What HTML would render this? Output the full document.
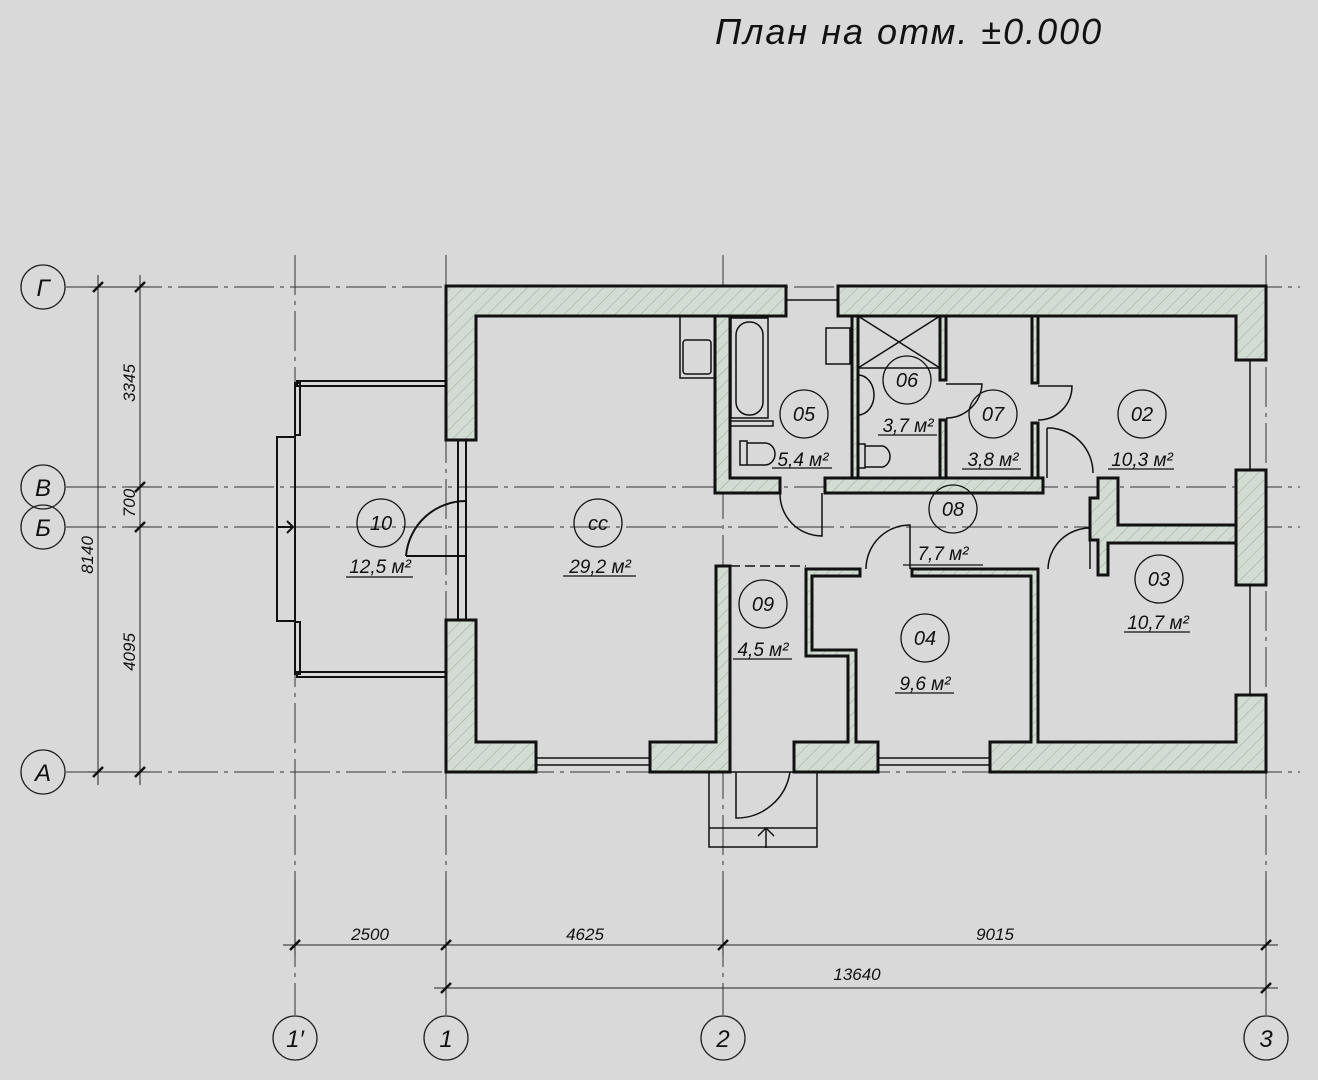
<!DOCTYPE html>
<html><head><meta charset="utf-8"><style>
html,body{margin:0;padding:0;background:#d9d9d9;}
svg{display:block}
text{font-family:"Liberation Sans","DejaVu Sans",sans-serif;font-style:italic;fill:#111}
</style></head><body>
<svg width="1318" height="1080" viewBox="0 0 1318 1080" xmlns="http://www.w3.org/2000/svg">
<defs>
<pattern id="h" width="9" height="9" patternUnits="userSpaceOnUse" patternTransform="rotate(45)">
<rect width="9" height="9" fill="#d3dcd3"/><line x1="0" y1="0" x2="0" y2="9" stroke="#9aa89a" stroke-width="1"/>
</pattern>
</defs>
<rect width="1318" height="1080" fill="#d9d9d9"/>
<text x="715" y="44" font-size="36" letter-spacing="2">План на отм. ±0.000</text>

<g stroke="#333" stroke-width="1" stroke-dasharray="40,6,4,6" fill="none">
<line x1="66" y1="287" x2="1300" y2="287"/>
<line x1="66" y1="487" x2="1300" y2="487"/>
<line x1="66" y1="527" x2="1300" y2="527"/>
<line x1="66" y1="772" x2="1300" y2="772"/>
<line x1="295" y1="255" x2="295" y2="1015"/>
<line x1="446" y1="255" x2="446" y2="1015"/>
<line x1="723" y1="255" x2="723" y2="1015"/>
<line x1="1266" y1="255" x2="1266" y2="1015"/>
</g>
<g fill="none" stroke="#222" stroke-width="1.3">
<circle cx="43" cy="287" r="22"/><circle cx="43" cy="487" r="22"/><circle cx="43" cy="527" r="22"/><circle cx="43" cy="772" r="22"/>
<circle cx="295" cy="1038" r="22"/><circle cx="446" cy="1038" r="22"/><circle cx="723" cy="1038" r="22"/><circle cx="1266" cy="1038" r="22"/>
</g>
<g font-size="24" text-anchor="middle">
<text x="43" y="296">Г</text><text x="43" y="496">В</text><text x="43" y="536">Б</text><text x="43" y="781">А</text>
<text x="295" y="1047">1′</text><text x="446" y="1047">1</text><text x="723" y="1047">2</text><text x="1266" y="1047">3</text>
</g>

<g stroke="#222" stroke-width="1">
<line x1="98" y1="275" x2="98" y2="785"/><line x1="140" y1="275" x2="140" y2="785"/>
<line x1="88" y1="287" x2="150" y2="287"/><line x1="128" y1="487" x2="150" y2="487"/><line x1="128" y1="527" x2="150" y2="527"/><line x1="88" y1="772" x2="150" y2="772"/>
<line x1="283" y1="945" x2="1278" y2="945"/><line x1="434" y1="988" x2="1278" y2="988"/>
<line x1="295" y1="880" x2="295" y2="955"/><line x1="446" y1="880" x2="446" y2="998"/><line x1="723" y1="880" x2="723" y2="955"/><line x1="1266" y1="880" x2="1266" y2="998"/>
</g>
<g stroke="#111" stroke-width="2.5">
<line x1="93" y1="292" x2="103" y2="282"/><line x1="93" y1="777" x2="103" y2="767"/>
<line x1="135" y1="292" x2="145" y2="282"/><line x1="135" y1="492" x2="145" y2="482"/><line x1="135" y1="532" x2="145" y2="522"/><line x1="135" y1="777" x2="145" y2="767"/>
<line x1="290" y1="950" x2="300" y2="940"/><line x1="441" y1="950" x2="451" y2="940"/><line x1="718" y1="950" x2="728" y2="940"/><line x1="1261" y1="950" x2="1271" y2="940"/>
<line x1="441" y1="993" x2="451" y2="983"/><line x1="1261" y1="993" x2="1271" y2="983"/>
</g>
<g font-size="17" text-anchor="middle">
<text x="98" y="555" transform="rotate(-90 98 555)" dy="-5">8140</text>
<text x="140" y="383" transform="rotate(-90 140 383)" dy="-5">3345</text>
<text x="140" y="503" transform="rotate(-90 140 503)" dy="-5">700</text>
<text x="140" y="652" transform="rotate(-90 140 652)" dy="-5">4095</text>
<text x="370" y="940">2500</text><text x="585" y="940">4625</text><text x="995" y="940">9015</text><text x="857" y="980">13640</text>
</g>

<g fill="none" stroke="#111" stroke-width="2">
<rect x="297" y="381" width="149" height="5"/><rect x="297" y="672" width="149" height="5"/>
<rect x="295" y="383" width="5" height="52"/><rect x="295" y="622" width="5" height="52"/>
<rect x="277" y="437" width="18" height="184"/>
<line x1="277" y1="527" x2="293" y2="527"/><polyline points="287,521 293,527 287,533"/>
<line x1="458" y1="440" x2="458" y2="620"/><line x1="466" y1="440" x2="466" y2="620"/>
<path d="M406 556 L466 556 M406 556 A60 60 0 0 1 466 501"/>
</g>

<g fill="url(#h)" stroke="#111" stroke-width="3" stroke-linejoin="miter">
<polygon points="446,286 786,286 786,316 476,316 476,440 446,440"/>
<polygon points="446,620 476,620 476,742 536,742 536,772 446,772"/>
<polygon points="650,742 716,742 716,566 730,566 730,772 650,772"/>
<polygon points="794,742 848,742 848,656 806,656 806,569 860,569 860,576 812,576 812,650 856,650 856,742 878,742 878,772 794,772"/>
<polygon points="912,569 1038,569 1038,742 1236,742 1236,695 1266,695 1266,772 990,772 990,742 1031,742 1031,576 912,576"/>
<polygon points="838,286 1266,286 1266,360 1236,360 1236,316 838,316"/>
<rect x="1236" y="470" width="30" height="115"/>
<polygon points="715,316 730,316 730,478 780,478 780,493 715,493"/>
<polygon points="825,478 1043,478 1043,493 825,493"/>
<rect x="852" y="316" width="6" height="162"/>
<rect x="940" y="316" width="6" height="64"/><rect x="940" y="420" width="6" height="58"/>
<rect x="1032" y="316" width="6" height="67"/><rect x="1032" y="423" width="6" height="55"/>
<polygon points="1098,478 1118,478 1118,525 1236,525 1236,543 1108,543 1108,575 1098,575 1098,540 1090,540 1090,498 1098,498"/>
</g>
<g fill="none" stroke="#111" stroke-width="1.5">
<line x1="536" y1="758" x2="650" y2="758"/><line x1="536" y1="765" x2="650" y2="765"/>
<line x1="878" y1="758" x2="990" y2="758"/><line x1="878" y1="765" x2="990" y2="765"/>
<line x1="786" y1="300" x2="838" y2="300"/>
<line x1="1250" y1="360" x2="1250" y2="470"/><line x1="1250" y1="585" x2="1250" y2="695"/>
<line x1="730" y1="566" x2="806" y2="566" stroke-dasharray="10,5"/>
</g>
<g fill="none" stroke="#111" stroke-width="1.5">
<rect x="709" y="772" width="108" height="75"/><line x1="709" y1="828" x2="817" y2="828"/>
<line x1="766" y1="848" x2="766" y2="828"/><polyline points="758,836 766,828 774,836"/>
<path d="M736 772 L736 818 A54 54 0 0 0 790 772"/>
<path d="M780 493 A42 42 0 0 0 822 536 L822 493"/>
<path d="M866 569 A44 44 0 0 1 910 525 L910 569"/>
<path d="M1048 569 A42 42 0 0 1 1090 528 L1090 569"/>
<path d="M1047 428 A45 45 0 0 1 1093 473 M1047 428 L1047 478"/>
<path d="M1038 386 L1072 386 A34 34 0 0 1 1038 420"/>
<path d="M946 384 L982 384 A36 36 0 0 1 946 418"/>
<rect x="731" y="318" width="37" height="100"/><rect x="736" y="322" width="27" height="93" rx="13"/>
<rect x="730" y="421" width="43" height="5"/>
<rect x="740" y="441" width="7" height="24"/><path d="M747 443 L765 443 A10 11 0 0 1 765 465 L747 465"/>
<rect x="680" y="316" width="35" height="62"/><rect x="683" y="340" width="28" height="34" rx="3"/>
<path d="M858 375 A16 20 0 0 1 858 415"/>
<rect x="858" y="316" width="82" height="52"/><line x1="858" y1="316" x2="940" y2="368"/><line x1="940" y1="316" x2="858" y2="368"/>
<rect x="858" y="444" width="7" height="24"/><path d="M865 446 L883 446 A10 11 0 0 1 883 467 L865 467"/>
<rect x="826" y="328" width="24" height="36"/>
</g>
<g fill="none" stroke="#111" stroke-width="1.3">
<circle cx="381" cy="523" r="24"/><circle cx="598" cy="523" r="24"/><circle cx="804" cy="414" r="24"/>
<circle cx="907" cy="380" r="24"/><circle cx="993" cy="414" r="24"/><circle cx="1142" cy="414" r="24"/>
<circle cx="953" cy="509" r="24"/><circle cx="763" cy="604" r="24"/><circle cx="925" cy="638" r="24"/><circle cx="1159" cy="579" r="24"/>
<line x1="346" y1="577" x2="413" y2="577"/><line x1="563" y1="576" x2="636" y2="576"/>
<line x1="772" y1="468" x2="832" y2="468"/><line x1="878" y1="435" x2="937" y2="435"/>
<line x1="962" y1="469" x2="1021" y2="469"/><line x1="1108" y1="469" x2="1174" y2="469"/>
<line x1="903" y1="565" x2="983" y2="565"/><line x1="733" y1="659" x2="792" y2="659"/>
<line x1="895" y1="693" x2="954" y2="693"/><line x1="1124" y1="632" x2="1190" y2="632"/>
</g>
<g font-size="20" text-anchor="middle">
<text x="381" y="530">10</text><text x="598" y="530">cc</text><text x="804" y="421">05</text>
<text x="907" y="387">06</text><text x="993" y="421">07</text><text x="1142" y="421">02</text>
<text x="953" y="516">08</text><text x="763" y="611">09</text><text x="925" y="645">04</text><text x="1159" y="586">03</text>
</g>
<g font-size="19" text-anchor="middle">
<text x="380" y="573">12,5 м²</text><text x="600" y="573">29,2 м²</text><text x="803" y="466">5,4 м²</text>
<text x="908" y="432">3,7 м²</text><text x="993" y="466">3,8 м²</text><text x="1142" y="466">10,3 м²</text>
<text x="943" y="560">7,7 м²</text><text x="763" y="656">4,5 м²</text><text x="925" y="690">9,6 м²</text><text x="1158" y="629">10,7 м²</text>
</g>
</svg>
</body></html>
